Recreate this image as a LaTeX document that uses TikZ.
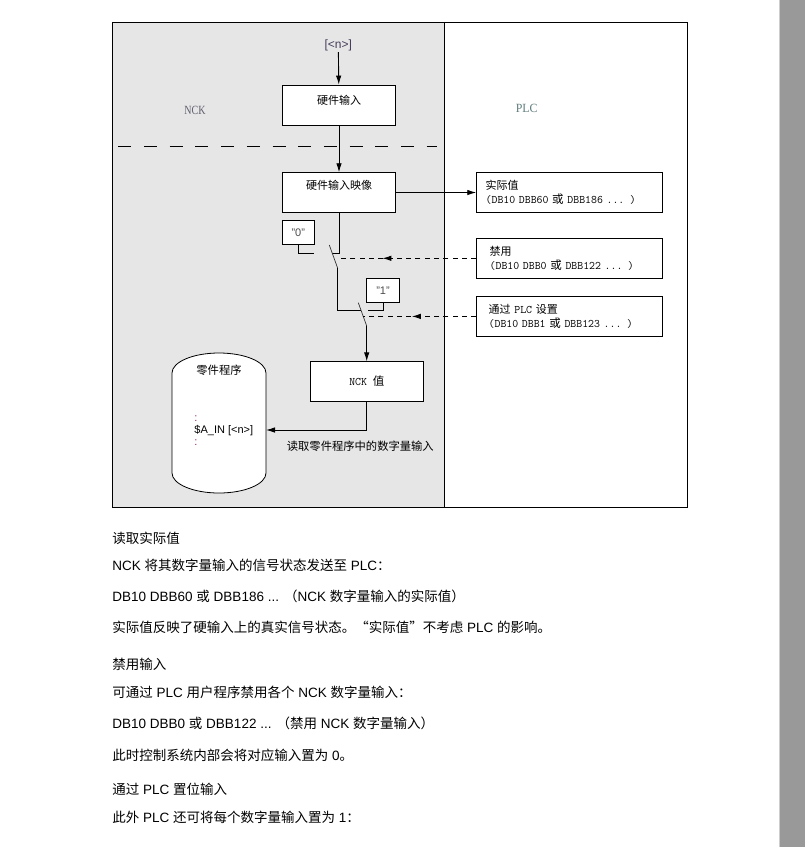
\documentclass[tikz,border=0pt]{standalone}
\usepackage{graphicx}
\usepackage{fontspec}
\setmainfont{Liberation Sans}
\newfontfamily\cjk{Noto Sans CJK SC}
\newfontfamily\serifnar{Liberation Serif}
\usetikzlibrary{positioning,arrows.meta,decorations.markings}
\newcommand{\zh}[1]{{\cjk #1}}
\newcommand{\mono}{\fontsize{11.5}{14}\selectfont\ttfamily}
\definecolor{panel}{RGB}{230,230,230}
\definecolor{bargrey}{RGB}{153,153,153}
\definecolor{baredge}{RGB}{205,205,205}
\definecolor{nckc}{RGB}{95,95,110}
\definecolor{plcc}{RGB}{95,125,125}
\definecolor{ninc}{RGB}{70,60,90}
\definecolor{dotc}{RGB}{140,40,120}

\begin{document}
\begin{tikzpicture}[x=1pt, y=-1pt, line width=0.9pt,
  box/.style={draw, fill=white, inner sep=0pt, font=\fontsize{11}{14}\selectfont},
  dbox/.style={box, minimum height=39.6pt, align=left},
  lab/.style={font=\fontsize{11.3}{13}\selectfont\cjk},
  big/.style={font=\fontsize{12.5}{14}\selectfont\serifnar},
  txt/.style={anchor=west, inner sep=0pt, font=\fontsize{13.5}{16}\selectfont, text=black},
  arr/.style={-{Latex[length=9pt,width=5.5pt]}},
  sw/.style={line width=0.7pt, black!80},
  dsh/.style={dash pattern=on 5pt off 4.3pt, postaction={decorate},
    decoration={markings, mark=at position #1 with {\arrow{Latex[length=9pt,width=5.5pt]}}}}
]
\fill[white] (0,0) rectangle (805,847);
\useasboundingbox (0,0) rectangle (805,847);
\fill[bargrey] (780,0) rectangle (805,847);
\draw[baredge, line width=1pt] (779.3,0) -- (779.3,847);

\fill[panel] (112,22) rectangle (444,507);
\draw[line width=1pt] (112,22) rectangle (687,507);
\draw[line width=1pt] (444,22) -- (444,507);
\draw[dash pattern=on 13pt off 12.7pt] (118.3,146.7) -- (437,146.7);

\node[big, text=nckc] (nck) at (195,110) {\scalebox{0.8}[1]{NCK}};
\node[big, text=plcc] (plc) at (526.7,108.3) {\scalebox{0.95}[1]{PLC}};

\node[text=ninc, inner sep=1pt, font=\fontsize{12}{14}\selectfont] (nin) at (338.3,45) {[<n>]};
\node[box, minimum width=113.4pt, minimum height=40pt, text height=9pt, text depth=10.6pt] (hwin) at (339,105) {\zh{硬件输入}};
\node[box, minimum width=113.4pt, minimum height=39.6pt, text height=9pt, text depth=15.6pt] (img) at (339,192.5) {\zh{硬件输入映像}};

\node[dbox, inner xsep=9pt, text width=167.6pt] (act) at (569.5,192.5) {\zh{实际值}\\\mono(DB10 DBB60 \zh{或} DBB186 ... )};
\node[dbox, inner xsep=13pt, text width=159.6pt] (dis) at (569.5,258.3) {\zh{禁用}\\\mono(DB10 DBB0 \zh{或} DBB122 ... )};
\node[dbox, inner xsep=12pt, text width=161.6pt, minimum height=39.3pt] (set) at (569.5,316.4) {\zh{通过} {\mono PLC} \zh{设置}\\\mono(DB10 DBB1 \zh{或} DBB123 ... )};

\node[box, minimum width=32pt, minimum height=23.6pt, text=black!70] (zero) at (298.3,232.5) {"0"};
\node[box, minimum width=32.6pt, minimum height=24.4pt, text=black!70] (one) at (383,290.5) {"1"};
\node[box, minimum width=112.3pt, minimum height=39.3pt] (nckv) at (366.9,381.4) {\mono NCK \zh{值}};

\draw[fill=white, line width=0.8pt] (172,373) arc[start angle=180, end angle=360, x radius=47, y radius=20]
  -- (266,473) arc[start angle=0, end angle=180, x radius=47, y radius=20] -- cycle;
\node[lab] (prog) at (219,370) {零件程序};
\node[align=left, anchor=west, inner sep=0pt, font=\fontsize{11}{12}\selectfont] (ain) at (194,431)
  {\textcolor{dotc}{:}\\\$A\_IN [<n>]\\\textcolor{dotc}{:}};
\coordinate (progR) at (266,430);
\node[lab] (rd) at (360.3,446) {读取零件程序中的数字量输入};

\coordinate (c0) at (314.3,253.3);
\coordinate (cin) at (331.7,253.3);
\coordinate (b1a) at (329.3,245);
\coordinate (b1b) at (337.7,268.3);
\coordinate (c1in) at (360.5,310);
\coordinate (c1) at (367.5,310);
\coordinate (b2a) at (358.3,302.7);
\coordinate (b2b) at (366.7,326);
\coordinate (d1) at (338.3,258.3);
\coordinate (d2) at (363.3,316.4);

\draw[arr] (nin) -- (hwin);
\draw[arr] (hwin) -- (img);
\draw[arr] (img) -- (act);
\draw (img.south) |- (cin);
\draw (zero.south) |- (c0);
\draw[sw] (b1a) -- (b1b);
\draw (b1b) |- (c1in);
\draw (one.south) |- (c1);
\draw[sw] (b2a) -- (b2b);
\draw[arr] (b2b) -- (b2b |- nckv.north);
\draw[arr] (nckv.south) |- (progR);
\draw[dsh=0.68] (dis.west) -- (d1);
\draw[dsh=0.57] (set.west) -- (d2);

\node[txt] (h1) at (112,538) {\zh{读取实际值}};
\node[txt] (p1) at (112,565) {NCK \zh{将其数字量输入的信号状态发送至} PLC\zh{：}};
\node[txt] (p2) at (112,596) {DB10 DBB60 \zh{或} DBB186 ... \zh{（}NCK \zh{数字量输入的实际值）}};
\node[txt] (p3) at (112,627) {\zh{实际值反映了硬输入上的真实信号状态。“实际值”不考虑} PLC \zh{的影响。}};
\node[txt] (h2) at (112,664) {\zh{禁用输入}};
\node[txt] (p4) at (112,692) {\zh{可通过} PLC \zh{用户程序禁用各个} NCK \zh{数字量输入：}};
\node[txt] (p5) at (112,723) {DB10 DBB0 \zh{或} DBB122 ... \zh{（禁用} NCK \zh{数字量输入）}};
\node[txt] (p6) at (112,755) {\zh{此时控制系统内部会将对应输入置为} 0\zh{。}};
\node[txt] (h3) at (112,789) {\zh{通过} PLC \zh{置位输入}};
\node[txt] (p7) at (112,817) {\zh{此外} PLC \zh{还可将每个数字量输入置为} 1\zh{：}};
\end{tikzpicture}
\end{document}
